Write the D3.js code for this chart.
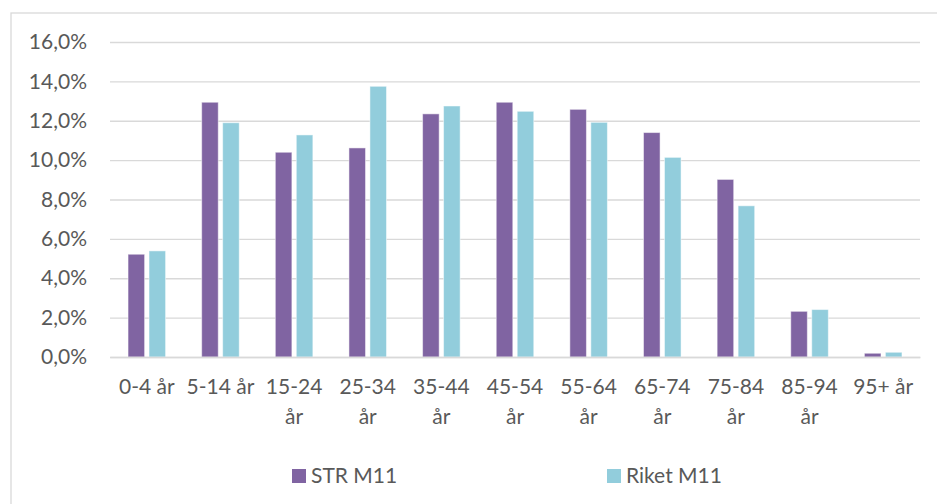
<!DOCTYPE html>
<html>
<head>
<meta charset="utf-8">
<script src="https://cdn.jsdelivr.net/npm/d3@7"></script>
<style>
  body { margin: 0; background: #fff; }
  text { font-family: Lato, "Open Sans", sans-serif; fill: #595959; }
</style>
</head>
<body>
<div id="chart"></div>
<script>
const kategorier = ["0-4 år", "5-14 år", "15-24 år", "25-34 år", "35-44 år", "45-54 år", "55-64 år", "65-74 år", "75-84 år", "85-94 år", "95+ år"];
const strM11 = [5.22, 12.94, 10.40, 10.62, 12.35, 12.94, 12.58, 11.40, 9.02, 2.32, 0.19];
const riketM11 = [5.39, 11.90, 11.28, 13.75, 12.75, 12.48, 11.92, 10.14, 7.68, 2.41, 0.24];
const serier = ["STR M11", "Riket M11"];
const farger = ["#8064a2", "#92cddc"];
const yTicks = [0, 2, 4, 6, 8, 10, 12, 14, 16];

const width = 937, height = 504;
const m = { left: 110, right: 17, top: 42, bottom: 147 };
const fs = 21;

const svg = d3.select("#chart").append("svg")
  .attr("width", width).attr("height", height);

// ram runt diagrammet
svg.append("rect")
  .attr("x", 11).attr("y", 13)
  .attr("width", 950).attr("height", 520)
  .attr("fill", "none").attr("stroke", "#d9d9d9").attr("stroke-width", 1.3);

const x0 = d3.scaleBand().domain(kategorier)
  .range([m.left, width - m.right]).paddingInner(0.49).paddingOuter(0.245);
const x1 = d3.scaleBand().domain(serier)
  .range([0, x0.bandwidth()]).paddingInner(0.21);
const y = d3.scaleLinear().domain([0, 16]).range([height - m.bottom, m.top]);

const fmt = v => v.toFixed(1).replace(".", ",") + "%";

// y-axel med rutnät
const yAxis = svg.append("g")
  .attr("transform", `translate(${m.left},0)`)
  .call(d3.axisLeft(y).tickValues(yTicks).tickFormat(fmt)
    .tickSize(-(width - m.left - m.right)).tickPadding(23));
yAxis.select(".domain").remove();
yAxis.selectAll(".tick line").attr("stroke", "#d9d9d9").attr("stroke-width", 1.3);
yAxis.selectAll(".tick text").attr("font-size", fs).attr("fill", "#595959")
  .style("font-family", "Lato, sans-serif");

// staplar
const grupper = svg.append("g").selectAll("g")
  .data(kategorier)
  .join("g")
  .attr("transform", d => `translate(${x0(d)},0)`);

grupper.selectAll("rect")
  .data((d, i) => [
    { serie: serier[0], v: strM11[i] },
    { serie: serier[1], v: riketM11[i] },
  ])
  .join("rect")
  .attr("x", d => x1(d.serie))
  .attr("y", d => y(d.v))
  .attr("width", x1.bandwidth())
  .attr("height", d => y(0) - y(d.v))
  .attr("fill", (d, i) => farger[i])
  .attr("stroke", "#fff").attr("stroke-opacity", 0.5).attr("stroke-width", 1);

// x-axel
const xAxis = svg.append("g")
  .attr("transform", `translate(0,${y(0)})`)
  .call(d3.axisBottom(x0).tickSize(0).tickPadding(22));
xAxis.select(".domain").attr("stroke", "#d9d9d9").attr("stroke-width", 1.3);
xAxis.selectAll(".tick text").attr("font-size", fs).attr("fill", "#595959")
  .style("font-family", "Lato, sans-serif")
  .each(function (d) {
    const t = d3.select(this);
    if (this.getComputedTextLength() > x0.step()) {
      const ord = d.split(" ");
      t.text(null);
      t.append("tspan").attr("x", 0).attr("dy", "0.71em").text(ord[0]);
      t.append("tspan").attr("x", 0).attr("dy", "1.45em").text(ord.slice(1).join(" "));
      t.attr("dy", null);
    }
  });

// förklaring
const legX = [292, 607];
const leg = svg.append("g").selectAll("g")
  .data(serier)
  .join("g")
  .attr("transform", (d, i) => `translate(${legX[i]},469)`);
leg.append("rect").attr("width", 14).attr("height", 14)
  .attr("fill", (d, i) => farger[i]);
leg.append("text").attr("x", 19).attr("y", 14)
  .attr("font-size", fs).text(d => d);
</script>
</body>
</html>
